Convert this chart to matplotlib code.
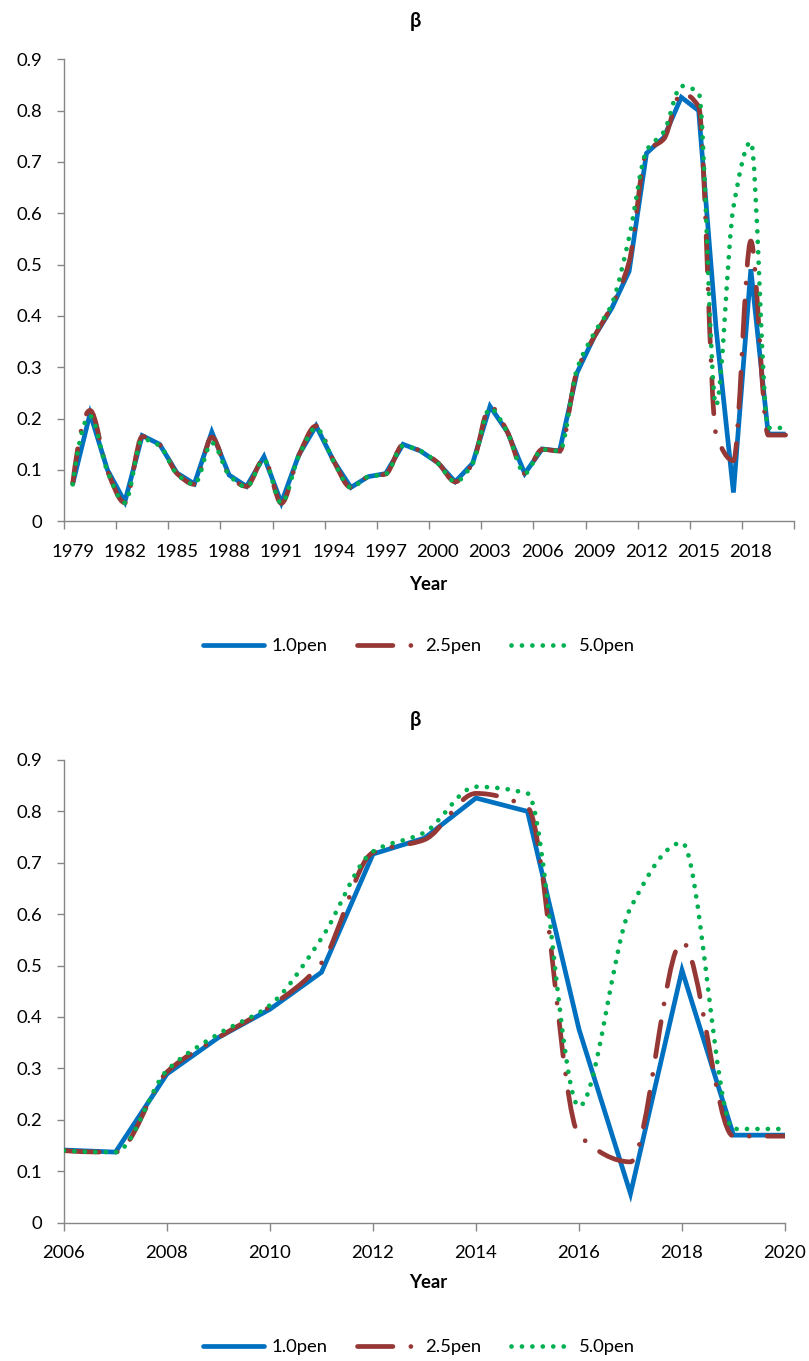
import numpy as np
import matplotlib
matplotlib.use("Agg")
import matplotlib.pyplot as plt
from matplotlib.path import Path
from matplotlib.patches import PathPatch
from matplotlib.lines import Line2D
from matplotlib.ticker import FuncFormatter

plt.rcParams['font.family'] = ['Lato', 'DejaVu Sans']

# ---------------- data ----------------
years = list(range(1979, 2021))
pen10 = [0.073, 0.210, 0.100, 0.038, 0.167, 0.150, 0.094, 0.073, 0.174, 0.090,
         0.068, 0.126, 0.036, 0.129, 0.186, 0.118, 0.066, 0.087, 0.093, 0.150,
         0.137, 0.114, 0.077, 0.113, 0.224, 0.174, 0.093, 0.141, 0.137, 0.289,
         0.360, 0.415, 0.487, 0.717, 0.748, 0.826, 0.800, 0.376, 0.056, 0.491,
         0.170, 0.170]
pen25 = [0.073, 0.216, 0.098, 0.036, 0.165, 0.149, 0.093, 0.072, 0.164, 0.090,
         0.068, 0.122, 0.035, 0.128, 0.186, 0.118, 0.066, 0.087, 0.092, 0.149,
         0.137, 0.114, 0.077, 0.113, 0.224, 0.174, 0.093, 0.140, 0.137, 0.293,
         0.360, 0.420, 0.505, 0.720, 0.745, 0.835, 0.808, 0.170, 0.118, 0.546,
         0.168, 0.168]
pen50 = [0.072, 0.205, 0.097, 0.036, 0.160, 0.147, 0.092, 0.072, 0.153, 0.090,
         0.067, 0.120, 0.035, 0.127, 0.182, 0.117, 0.066, 0.087, 0.092, 0.147,
         0.137, 0.113, 0.077, 0.113, 0.220, 0.173, 0.093, 0.140, 0.137, 0.296,
         0.367, 0.423, 0.553, 0.722, 0.759, 0.848, 0.835, 0.226, 0.612, 0.739,
         0.182, 0.182]
series_labels = ['1.0pen', '2.5pen', '5.0pen']
zoom_start = 2006
top_tick_labels = [str(y) for y in range(1979, 2021, 3)]
bottom_ticks = [2006, 2008, 2010, 2012, 2014, 2016, 2018, 2020]
y_ticks = [0, 0.1, 0.2, 0.3, 0.4, 0.5, 0.6, 0.7, 0.8, 0.9]

# ---------------- styles ----------------
BLUE = '#0070C0'
RED = '#953735'
GREEN = '#00B050'
AXCOL = '#868686'
LW = 3.4
RED_DASH = (0, (7.5, 3.8, 0.01, 3.8))
GREEN_DOT = (0, (0.01, 2.2))
FS = 13.3

W, H = 809, 1361
fig = plt.figure(figsize=(W / 100, H / 100), dpi=100)


def _pchip_slopes(x, y):
    x = np.asarray(x, float)
    y = np.asarray(y, float)
    h = np.diff(x)
    delta = np.diff(y) / h
    n = len(x)
    d = np.zeros(n)
    for k in range(1, n - 1):
        if delta[k - 1] * delta[k] > 0:
            w1 = 2 * h[k] + h[k - 1]
            w2 = h[k] + 2 * h[k - 1]
            d[k] = (w1 + w2) / (w1 / delta[k - 1] + w2 / delta[k])
    for k, (h0, h1, d0, d1) in [(0, (h[0], h[1], delta[0], delta[1])),
                                (n - 1, (h[-1], h[-2], delta[-1], delta[-2]))]:
        v = ((2 * h0 + h1) * d0 - h0 * d1) / (h0 + h1)
        if np.sign(v) != np.sign(d0):
            v = 0.0
        elif np.sign(d0) != np.sign(d1) and abs(v) > abs(3 * d0):
            v = 3 * d0
        d[k] = v
    return x, y, h, d


def smooth_path(x, y):
    """Smoothed line through the data points as cubic Bezier segments."""
    x, y, h, d = _pchip_slopes(x, y)
    verts = [(x[0], y[0])]
    codes = [Path.MOVETO]
    for i in range(len(x) - 1):
        verts += [(x[i] + h[i] / 3, y[i] + d[i] * h[i] / 3),
                  (x[i + 1] - h[i] / 3, y[i + 1] - d[i + 1] * h[i] / 3),
                  (x[i + 1], y[i + 1])]
        codes += [Path.CURVE4] * 3
    return Path(verts, codes)


def style_axes(ax):
    for s in ['top', 'right']:
        ax.spines[s].set_visible(False)
    for s in ['left', 'bottom']:
        ax.spines[s].set_color(AXCOL)
        ax.spines[s].set_linewidth(1.0)
    ax.set_ylim(0, 0.9)
    ax.set_yticks(y_ticks)
    ax.yaxis.set_major_formatter(FuncFormatter(lambda v, p: f"{v:g}"))
    ax.tick_params(axis='y', direction='out', length=5, width=1.0, color=AXCOL,
                   labelsize=FS, pad=10.5, labelcolor='black')
    ax.tick_params(axis='x', which='major', direction='out', length=6, width=1.0,
                   color=AXCOL, labelsize=FS, pad=10, labelcolor='black')
    ax.set_facecolor('none')


def draw_series(ax, x, y10, y25, y50):
    ax.plot(x, y10, color=BLUE, lw=LW, solid_joinstyle='miter',
            solid_capstyle='butt', zorder=3)
    p25 = PathPatch(smooth_path(x, y25), fill=False, edgecolor=RED, lw=LW,
                    linestyle=RED_DASH, capstyle='round', joinstyle='round',
                    zorder=4)
    ax.add_patch(p25)
    p50 = PathPatch(smooth_path(x, y50), fill=False, edgecolor=GREEN, lw=LW,
                    linestyle=GREEN_DOT, capstyle='round', joinstyle='round',
                    zorder=5)
    ax.add_patch(p50)


legend_handles = [
    Line2D([], [], color=BLUE, lw=LW, solid_capstyle='round'),
    Line2D([], [], color=RED, lw=LW, linestyle=RED_DASH, dash_capstyle='round'),
    Line2D([], [], color=GREEN, lw=LW, linestyle=GREEN_DOT, dash_capstyle='round'),
]

# ---------------- top panel (category axis) ----------------
ax1 = fig.add_axes([64 / W, 1 - 521.3 / H, (794.3 - 64) / W, (521.3 - 59.3) / H])
style_axes(ax1)
ax1.set_xlim(years[0] - 0.5, years[-1] + 0.5)
ax1.set_xticks([years[0] - 0.5 + 3 * k for k in range(len(years) // 3 + 1)])
ax1.set_xticklabels([])
ax1.set_xticks([int(t) for t in top_tick_labels], minor=True)
ax1.set_xticklabels(top_tick_labels, minor=True)
ax1.tick_params(axis='x', which='minor', length=0, labelsize=FS, pad=16)
draw_series(ax1, years, pen10, pen25, pen50)

# ---------------- bottom panel (2006-2020) ----------------
i0 = years.index(zoom_start)
ax2 = fig.add_axes([64 / W, 1 - 1222.5 / H, (785 - 64) / W, (1222.5 - 760) / H])
style_axes(ax2)
ax2.set_xlim(zoom_start, years[-1])
ax2.set_xticks(bottom_ticks)
ax2.set_xticklabels([str(t) for t in bottom_ticks])
draw_series(ax2, years[i0:], pen10[i0:], pen25[i0:], pen50[i0:])

# ---------------- titles, axis labels, legends ----------------
for ty, ly, gy in [(21, 585, 646), (720, 1283, 1347)]:
    fig.text(415 / W, 1 - ty / H, 'β', ha='center', va='center',
             fontsize=FS + 1, fontweight='bold')
    fig.text(428 / W, 1 - ly / H, 'Year', ha='center', va='center',
             fontsize=FS, fontweight='bold')
    fig.legend(legend_handles, series_labels, loc='center',
               bbox_to_anchor=(419 / W, 1 - gy / H), ncol=3, frameon=False,
               fontsize=FS, handlelength=3.3, handletextpad=0.4,
               columnspacing=1.6)

fig.savefig('out.png', dpi=100, facecolor='white')
